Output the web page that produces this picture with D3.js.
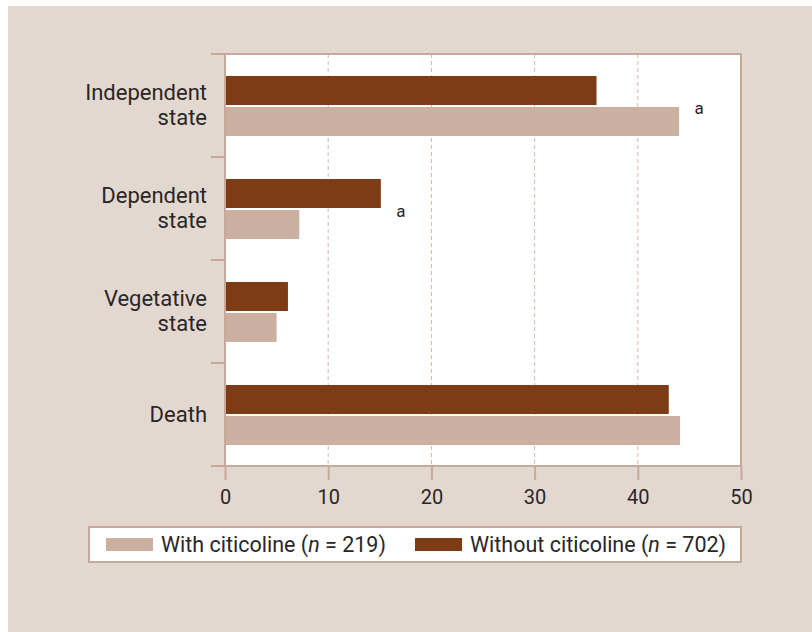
<meta charset="utf-8">
<script src="https://d3js.org/d3.v7.min.js"></script>
<style>
  body { margin: 0; background: #fff; }
  text { font-family: Roboto, "Liberation Sans", sans-serif; fill: #2a2627; }
</style>
<body>
<div id="chart"></div>
<script>

var categories = ["Independent state", "Dependent state", "Vegetative state", "Death"]
var labelLines = [["Independent", "state"], ["Dependent", "state"], ["Vegetative", "state"], ["Death"]]
var withoutCiticoline = [36, 15.1, 6.1, 43]
var withCiticoline = [44, 7.2, 5, 44.1]
var marks = ["a", "a", "", ""]
var xTicks = [0, 10, 20, 30, 40, 50]
var seriesNames = ["Without citicoline", "With citicoline"]
var legendLabels = [["With citicoline (", "n", " = 219)"], ["Without citicoline (", "n", " = 702)"]]

var width = 812, height = 632
var plotLeft = 225, plotRight = 741, plotTop = 54, plotBottom = 466
var axisColor = "#c8a898"

var color = d3.scaleOrdinal()
  .domain(seriesNames)
  .range(["#7d3c16", "#cbb0a2"])

var svg = d3.select("#chart").append("svg")
    .attr("width", width)
    .attr("height", height)

// beige panel
svg.append("rect")
  .attr("x", 8).attr("y", 6)
  .attr("width", width - 8).attr("height", height - 6)
  .attr("fill", "#e3d8cf")

var x = d3.scaleLinear().domain([0, 50]).range([plotLeft, plotRight])
var y = d3.scaleBand().domain(categories).range([plotTop, plotBottom])
var ySub = d3.scaleBand().domain(seriesNames).range([22, 82]).paddingInner(0.0645)

// plot background
svg.append("rect")
  .attr("x", plotLeft).attr("y", plotTop)
  .attr("width", plotRight - plotLeft).attr("height", plotBottom - plotTop)
  .attr("fill", "#fff")

// dashed grid
svg.append("g").selectAll("line")
  .data(xTicks.slice(1, -1))
  .enter().append("line")
    .attr("x1", d => x(d)).attr("x2", d => x(d))
    .attr("y1", plotTop).attr("y2", plotBottom)
    .attr("stroke", "#d6b6a4")
    .attr("stroke-width", 1)
    .attr("stroke-dasharray", "4,3")

var rows = categories.map(function(c, i) {
  return { cat: c, values: [
    { key: "Without citicoline", value: withoutCiticoline[i] },
    { key: "With citicoline", value: withCiticoline[i] }
  ], mark: marks[i], lines: labelLines[i] }
})

var group = svg.append("g").selectAll("g")
  .data(rows)
  .enter().append("g")
    .attr("transform", d => "translate(0," + y(d.cat) + ")")

group.selectAll("rect")
  .data(d => d.values)
  .enter().append("rect")
    .attr("x", x(0))
    .attr("y", d => ySub(d.key))
    .attr("width", d => x(d.value) - x(0))
    .attr("height", ySub.bandwidth())
    .attr("fill", d => color(d.key))

// significance marks
group.append("text")
  .attr("x", d => x(d3.max(d.values, v => v.value)) + 20)
  .attr("y", ySub("With citicoline") + 7)
  .attr("font-size", "17px")
  .attr("text-anchor", "middle")
  .text(d => d.mark)

// category labels
group.append("text")
  .attr("text-anchor", "end")
  .attr("font-size", "22px")
  .each(function(d) {
    var t = d3.select(this)
    var n = d.lines.length
    d.lines.forEach(function(line, j) {
      t.append("tspan")
        .attr("x", 207)
        .attr("y", y.bandwidth() / 2 + 7 + (j - (n - 1) / 2) * 25.5)
        .text(line)
    })
  })

// x axis
var xAxis = svg.append("g")
  .attr("transform", "translate(0," + plotBottom + ")")
  .call(d3.axisBottom(x).tickValues(xTicks).tickSize(14).tickPadding(10))
xAxis.select(".domain").remove()
xAxis.selectAll("line").attr("stroke", axisColor).attr("stroke-width", 2)
xAxis.selectAll("text").attr("font-size", "20px").style("font-family", "Roboto").attr("fill", "#2a2627")

// y axis ticks at band edges
var edges = categories.map(c => y(c)).concat([plotBottom])
svg.append("g").selectAll("line")
  .data(edges)
  .enter().append("line")
    .attr("x1", plotLeft - 14).attr("x2", plotLeft)
    .attr("y1", d => d).attr("y2", d => d)
    .attr("stroke", axisColor).attr("stroke-width", 2)

// frame
var frame = [
  [plotLeft - 14, plotBottom, plotRight, plotBottom],
  [plotLeft, plotTop, plotLeft, plotBottom],
  [plotLeft - 14, plotTop, plotRight + 1, plotTop],
  [plotRight, plotTop, plotRight, plotBottom]
]
svg.append("g").selectAll("line")
  .data(frame)
  .enter().append("line")
    .attr("x1", d => d[0]).attr("y1", d => d[1])
    .attr("x2", d => d[2]).attr("y2", d => d[3])
    .attr("stroke", axisColor).attr("stroke-width", 2)

// legend
var legend = svg.append("g")
legend.append("rect")
  .attr("x", 89).attr("y", 527)
  .attr("width", 652).attr("height", 35)
  .attr("fill", "#fff")
  .attr("stroke", axisColor).attr("stroke-width", 2)

var legendKeys = ["With citicoline", "Without citicoline"]
var legendX = [106, 415]
legendKeys.forEach(function(k, i) {
  legend.append("rect")
    .attr("x", legendX[i]).attr("y", 538)
    .attr("width", 47).attr("height", 13)
    .attr("fill", color(k))
  var t = legend.append("text")
    .attr("x", legendX[i] + 55).attr("y", 552)
    .attr("font-size", "21.5px")
  t.append("tspan").text(legendLabels[i][0])
  t.append("tspan").attr("font-style", "italic").text(legendLabels[i][1])
  t.append("tspan").text(legendLabels[i][2])
})

</script>
</body>
